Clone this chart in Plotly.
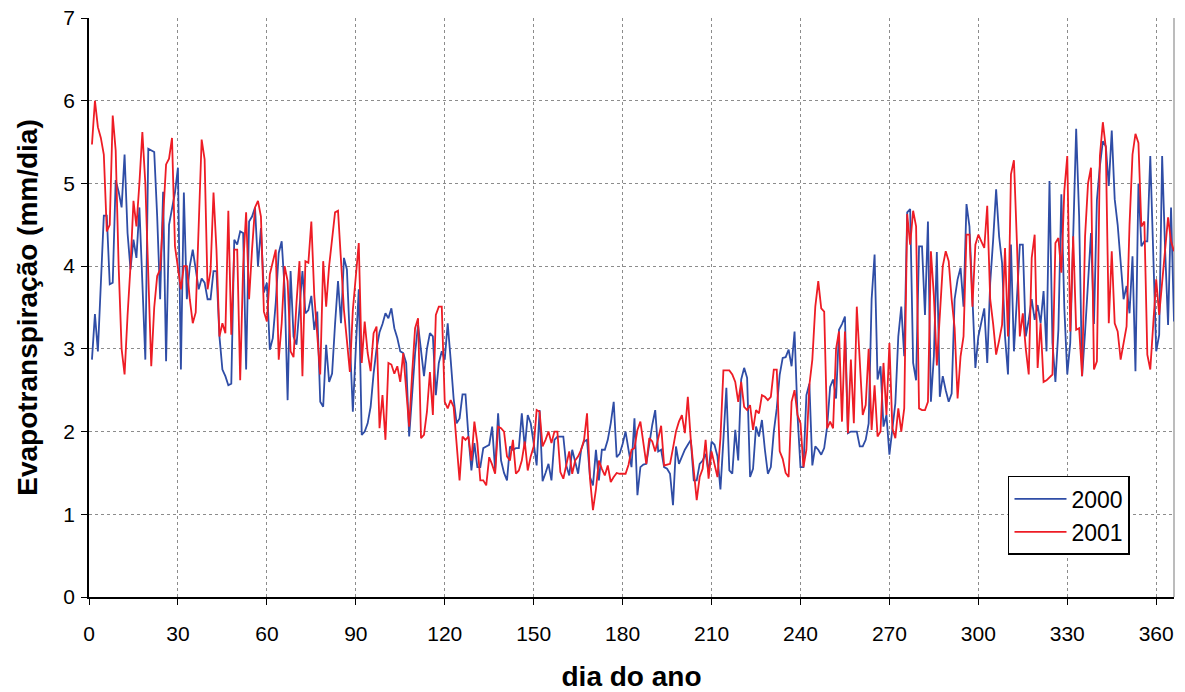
import plotly.graph_objects as go

days = list(range(1, 367))

et_2000 = [
    2.87, 3.42, 2.97, 3.72, 4.61, 4.61, 3.78, 3.80, 5.04, 4.90,
    4.71, 5.35, 4.40, 3.96, 4.32, 4.10, 4.71, 3.80, 2.87, 5.42,
    5.40, 5.38, 4.60, 3.60, 4.90, 2.85, 4.50, 4.70, 4.89, 5.19,
    2.75, 4.89, 3.60, 4.00, 4.20, 3.96, 3.72, 3.85, 3.80, 3.60,
    3.60, 3.94, 3.94, 3.15, 2.75, 2.67, 2.56, 2.58, 4.32, 4.26,
    4.42, 4.40, 2.75, 4.54, 4.60, 4.71, 4.00, 4.46, 3.68, 3.80,
    2.99, 3.13, 3.56, 4.16, 4.30, 3.72, 2.38, 3.94, 3.15, 3.05,
    3.50, 3.94, 3.43, 3.47, 3.64, 3.23, 3.45, 2.36, 2.30, 3.05,
    2.60, 2.70, 3.30, 3.82, 3.31, 4.10, 3.96, 3.00, 2.24, 3.00,
    3.72, 1.96, 2.00, 2.10, 2.30, 2.70, 3.00, 3.20, 3.30, 3.43,
    3.37, 3.49, 3.25, 3.13, 2.97, 2.95, 2.83, 1.94, 2.50, 2.95,
    3.29, 3.00, 2.67, 3.00, 3.19, 3.15, 2.44, 2.83, 2.97, 2.87,
    3.31, 2.87, 2.40, 2.10, 2.16, 2.45, 2.45, 1.94, 1.53, 1.86,
    1.57, 1.57, 1.80, 1.82, 1.84, 2.06, 1.53, 2.22, 1.65, 1.50,
    1.41, 1.82, 1.78, 1.80, 1.80, 2.22, 1.80, 2.20, 2.10, 1.86,
    1.59, 2.26, 1.40, 1.50, 1.61, 1.41, 1.90, 1.94, 1.94, 1.94,
    1.59, 1.47, 1.78, 1.65, 1.49, 1.78, 1.88, 1.90, 1.45, 1.35,
    1.78, 1.41, 1.78, 1.78, 1.90, 2.10, 2.36, 1.69, 1.73, 1.85,
    2.00, 1.78, 1.57, 2.16, 1.23, 1.57, 1.60, 1.61, 1.86, 2.08,
    2.26, 1.76, 1.78, 1.57, 1.55, 1.49, 1.11, 1.82, 1.61, 1.70,
    1.78, 1.84, 1.90, 1.41, 1.41, 1.61, 1.65, 1.73, 1.51, 1.88,
    1.84, 1.70, 1.30, 1.90, 2.53, 1.53, 1.49, 2.02, 1.65, 2.63,
    2.77, 2.65, 1.45, 1.55, 2.06, 1.94, 2.14, 1.78, 1.49, 1.57,
    2.00, 2.28, 2.69, 2.89, 2.90, 2.99, 2.79, 3.21, 2.20, 1.57,
    1.57, 2.44, 2.58, 1.59, 1.82, 1.78, 1.72, 1.80, 2.06, 2.54,
    2.63, 2.40, 3.23, 3.30, 3.39, 1.98, 2.00, 2.00, 2.00, 1.82,
    1.82, 1.90, 2.10, 3.60, 4.14, 2.63, 2.79, 2.06, 2.20, 1.72,
    2.00, 2.34, 3.15, 3.51, 2.91, 4.65, 4.69, 2.83, 2.62, 4.24,
    4.24, 3.41, 4.54, 2.36, 2.91, 4.17, 2.42, 2.67, 2.50, 2.36,
    2.46, 3.60, 3.84, 3.98, 3.51, 4.75, 4.48, 3.51, 2.77, 3.15,
    3.31, 3.49, 2.83, 3.80, 4.32, 4.93, 4.36, 4.04, 3.15, 2.69,
    4.26, 2.97, 3.60, 4.26, 4.26, 3.15, 3.35, 3.60, 3.35, 3.53,
    3.31, 3.70, 2.97, 5.03, 3.07, 2.60, 3.23, 4.87, 3.50, 2.69,
    3.07, 4.40, 5.66, 4.60, 2.67, 3.20, 3.80, 4.40, 3.30, 4.80,
    5.21, 5.51, 5.45, 4.97, 5.64, 4.81, 4.50, 4.00, 3.60, 3.76,
    3.43, 4.12, 2.73, 5.00, 4.24, 4.30, 4.30, 5.33, 4.00, 2.97,
    3.17, 5.33, 4.20, 3.29, 4.71, 3.33,
]

et_2001 = [
    5.47, 6.00, 5.68, 5.55, 5.35, 4.42, 4.50, 5.82, 5.40, 4.00,
    3.00, 2.69, 3.40, 4.00, 4.79, 4.48, 5.00, 5.62, 5.00, 3.90,
    2.79, 3.50, 3.88, 3.96, 4.60, 5.23, 5.30, 5.55, 4.24, 4.00,
    3.72, 4.00, 4.00, 3.60, 3.31, 3.44, 4.50, 5.53, 5.29, 3.72,
    3.94, 4.89, 4.20, 3.15, 3.31, 3.19, 4.67, 3.17, 4.20, 4.20,
    2.62, 4.00, 4.65, 3.60, 4.20, 4.71, 4.79, 4.60, 3.45, 3.33,
    3.90, 4.05, 4.20, 2.87, 3.31, 4.00, 3.82, 2.97, 2.90, 3.56,
    4.06, 2.67, 4.06, 4.04, 4.54, 3.64, 3.10, 2.69, 4.06, 3.51,
    4.00, 4.30, 4.65, 4.67, 4.00, 3.47, 3.10, 2.72, 3.47, 3.90,
    4.28, 2.83, 3.33, 2.95, 2.73, 3.19, 3.27, 2.04, 2.44, 1.90,
    2.83, 2.81, 2.70, 2.79, 2.60, 2.95, 2.50, 2.06, 2.70, 3.25,
    3.37, 1.92, 1.96, 2.24, 2.72, 2.20, 3.41, 3.51, 3.51, 2.36,
    2.28, 2.38, 2.30, 1.80, 1.41, 1.94, 1.90, 1.94, 1.65, 2.12,
    1.86, 1.41, 1.41, 1.35, 1.69, 1.60, 1.49, 2.06, 2.04, 2.00,
    1.70, 1.65, 1.90, 1.49, 1.53, 1.65, 1.88, 1.53, 1.70, 1.82,
    2.26, 2.24, 1.82, 1.90, 2.00, 1.86, 2.00, 2.00, 1.51, 1.43,
    1.60, 1.76, 1.49, 1.65, 1.70, 1.78, 1.90, 2.22, 1.43, 1.05,
    1.30, 1.65, 1.55, 1.47, 1.59, 1.39, 1.45, 1.50, 1.49, 1.49,
    1.49, 1.60, 1.78, 1.80, 2.02, 2.12, 1.86, 1.61, 1.92, 1.88,
    1.76, 1.90, 2.07, 1.59, 1.60, 1.61, 1.80, 2.00, 2.12, 2.20,
    1.98, 2.42, 1.90, 1.55, 1.17, 1.45, 1.55, 1.90, 1.43, 1.76,
    1.60, 1.45, 1.92, 2.74, 2.74, 2.74, 2.69, 2.60, 2.36, 2.60,
    2.30, 2.26, 2.32, 2.02, 2.26, 2.22, 2.44, 2.42, 2.38, 2.42,
    2.75, 2.75, 1.76, 1.67, 1.50, 1.45, 2.36, 2.50, 2.20, 2.10,
    1.57, 1.78, 2.56, 2.87, 3.51, 3.82, 3.49, 3.45, 2.04, 2.12,
    2.04, 3.00, 3.21, 2.12, 3.21, 1.98, 2.87, 2.10, 3.51, 2.80,
    2.20, 2.32, 3.00, 2.02, 2.56, 1.94, 2.00, 2.83, 2.20, 3.07,
    2.04, 1.92, 2.28, 2.00, 2.28, 4.63, 4.26, 4.67, 4.48, 2.28,
    2.26, 2.26, 2.36, 4.18, 3.64, 2.80, 3.39, 4.00, 4.18, 4.06,
    3.60, 3.25, 2.40, 2.91, 3.15, 4.38, 4.38, 3.51, 4.26, 4.38,
    4.30, 4.22, 4.73, 3.60, 3.30, 2.93, 3.10, 3.29, 4.22, 3.15,
    5.11, 5.28, 4.30, 3.15, 3.43, 3.00, 2.69, 4.10, 4.38, 2.77,
    3.31, 2.60, 2.62, 2.65, 2.69, 4.28, 4.34, 3.92, 4.91, 5.33,
    3.21, 4.36, 3.23, 3.25, 2.67, 4.36, 5.00, 5.19, 2.75, 2.85,
    5.33, 5.74, 5.43, 3.31, 4.18, 3.31, 3.21, 2.87, 3.07, 3.27,
    4.50, 5.35, 5.60, 5.49, 4.48, 4.54, 2.93, 2.75, 3.30, 3.84,
    3.41, 3.80, 4.14, 4.59, 4.30, 4.18,
]

x_ticks = [0, 30, 60, 90, 120, 150, 180, 210, 240, 270, 300, 330, 360]
y_ticks = [0, 1, 2, 3, 4, 5, 6, 7]

FONT = "Liberation Sans, Arial, sans-serif"

fig = go.Figure()
fig.add_trace(go.Scatter(x=days, y=et_2000, mode="lines", name="2000",
                         line=dict(color="#2F4DA6", width=1.8)))
fig.add_trace(go.Scatter(x=days, y=et_2001, mode="lines", name="2001",
                         line=dict(color="#EE1C25", width=1.8)))

fig.update_layout(
    width=1185, height=692,
    margin=dict(l=89, r=11, t=18, b=95),
    paper_bgcolor="white", plot_bgcolor="white",
    font=dict(family=FONT, size=21, color="black"),
    showlegend=True,
    legend=dict(x=0.847, y=0.209, xanchor="left", yanchor="top",
                bgcolor="white", bordercolor="black", borderwidth=1.5,
                font=dict(size=23), itemwidth=52, tracegroupgap=6),
    shapes=[dict(type="line", xref="paper", yref="paper", x0=1, x1=1, y0=0, y1=1,
                 line=dict(color="#a6a6a6", width=1.5), layer="below")],
)
fig.update_xaxes(
    range=[0, 366], tickvals=x_ticks, ticktext=[str(v) for v in x_ticks],
    showgrid=True, gridcolor="#8c8c8c", griddash="dot", gridwidth=1,
    showline=True, linecolor="black", linewidth=1.5, mirror=False,
    ticks="outside", ticklen=6, tickcolor="black", ticklabelstandoff=11,
    zeroline=False, automargin=False,
    title=dict(text="<b>dia do ano</b>", font=dict(size=28), standoff=26),
)
fig.update_yaxes(
    range=[0, 7], tickvals=y_ticks,
    showgrid=True, gridcolor="#8c8c8c", griddash="dot", gridwidth=1,
    showline=True, linecolor="black", linewidth=1.5,
    ticks="outside", ticklen=6, tickcolor="black", ticklabelstandoff=2,
    zeroline=False, automargin=False,
    title=dict(text="<b>Evapotranspiração (mm/dia)</b>", font=dict(size=28), standoff=18),
)

fig.write_html("out.html")
